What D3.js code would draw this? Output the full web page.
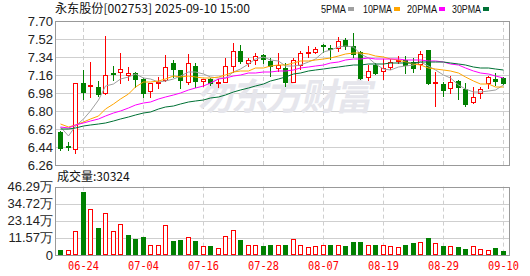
<!DOCTYPE html>
<html>
<head>
<meta charset="utf-8">
<script src="https://cdn.jsdelivr.net/npm/d3@7"></script>
<style>
  body { margin: 0; background: #fff; }
  svg { display: block; }
</style>
</head>
<body>
<svg id="chart"></svg>
<script>
// ---- data ----
const dates = [
    '06-19', '06-20', '06-23', '06-24', '06-25', '06-26', '06-27', '06-30',
    '07-01', '07-02', '07-03', '07-04', '07-07', '07-08', '07-09', '07-10', '07-11',
    '07-14', '07-15', '07-16', '07-17', '07-18', '07-21', '07-22', '07-23', '07-24',
    '07-25', '07-28', '07-29', '07-30', '07-31',
    '08-01', '08-04', '08-05', '08-06', '08-07', '08-08', '08-11', '08-12', '08-13',
    '08-14', '08-15', '08-18', '08-19', '08-20', '08-21', '08-22', '08-25', '08-26',
    '08-27', '08-28', '08-29',
    '09-01', '09-02', '09-03', '09-04', '09-05', '09-08', '09-09', '09-10'
];
const opens = [6.59, 6.45, 6.42, 7.08, 7.05, 7.04, 6.98, 7.18, 7.19, 7.16,
    7.18, 7.12, 7.00, 7.08, 7.11, 7.28, 7.21, 7.09, 7.25, 7.10,
    7.12, 7.08, 7.09, 7.25, 7.40, 7.28, 7.31, 7.36, 7.30, 7.23,
    7.23, 7.09, 7.26, 7.38, 7.39, 7.46, 7.43, 7.43, 7.51, 7.45,
    7.39, 7.14, 7.26, 7.20, 7.24, 7.30, 7.31, 7.29, 7.27, 7.41,
    7.08, 7.07, 7.03, 7.10, 7.02, 6.89, 6.98, 7.08, 7.12, 7.13];
const highs = [6.60, 6.49, 7.08, 7.21, 7.29, 7.10, 7.55, 7.25, 7.38, 7.24,
    7.19, 7.13, 7.08, 7.14, 7.36, 7.31, 7.21, 7.37, 7.28, 7.12,
    7.13, 7.12, 7.33, 7.48, 7.46, 7.33, 7.38, 7.37, 7.33, 7.38,
    7.28, 7.33, 7.40, 7.45, 7.44, 7.47, 7.46, 7.54, 7.53, 7.58,
    7.40, 7.26, 7.28, 7.32, 7.32, 7.35, 7.35, 7.33, 7.40, 7.41,
    7.19, 7.09, 7.15, 7.11, 7.08, 7.04, 7.04, 7.15, 7.18, 7.14];
const lows = [6.41, 6.41, 6.38, 6.92, 6.94, 6.95, 6.97, 7.11, 7.08, 7.11,
    7.04, 6.94, 6.94, 7.03, 7.10, 7.14, 7.03, 7.07, 7.04, 7.05,
    7.06, 7.04, 7.09, 7.19, 7.28, 7.25, 7.27, 7.28, 7.15, 7.20,
    7.05, 7.09, 7.22, 7.34, 7.38, 7.39, 7.32, 7.40, 7.42, 7.34,
    7.12, 7.11, 7.17, 7.12, 7.22, 7.28, 7.18, 7.19, 7.22, 7.07,
    6.85, 6.95, 6.98, 6.92, 6.85, 6.88, 6.93, 7.03, 7.06, 7.07];
const closes = [6.43, 6.44, 7.08, 6.99, 7.06, 6.97, 7.16, 7.17, 7.22, 7.18,
    7.12, 6.98, 7.08, 7.09, 7.24, 7.22, 7.11, 7.28, 7.10, 7.12,
    7.08, 7.09, 7.25, 7.40, 7.30, 7.31, 7.35, 7.32, 7.25, 7.26,
    7.09, 7.31, 7.38, 7.39, 7.42, 7.45, 7.42, 7.50, 7.45, 7.37,
    7.13, 7.20, 7.18, 7.23, 7.29, 7.31, 7.26, 7.23, 7.37, 7.08,
    7.09, 7.01, 7.09, 7.04, 6.87, 6.94, 7.02, 7.14, 7.10, 7.08];
// volume in 万 shares
const volumes = [3.3, 3.1, 16.5, 42.7, 31.2, 18.0, 28.5, 16.5, 21.1, 13.4,
    10.7, 12.0, 7.1, 7.1, 20.5, 9.3, 10.0, 12.5, 9.3, 5.8,
    6.0, 4.5, 13.1, 17.1, 10.0, 7.1, 6.5, 6.0, 7.1, 6.5,
    7.1, 10.5, 7.1, 5.1, 5.8, 6.5, 6.5, 6.5, 6.0, 8.5,
    8.5, 7.1, 7.1, 6.5, 5.8, 5.1, 7.1, 7.8, 9.1, 11.3,
    7.8, 5.8, 5.8, 5.1, 3.8, 5.8, 3.8, 3.1, 4.7, 3.03];
const ma5 = [6.64, 6.55, 6.65, 6.72, 6.80, 6.91, 7.05, 7.07, 7.12, 7.14,
    7.17, 7.13, 7.12, 7.09, 7.10, 7.12, 7.15, 7.19, 7.19, 7.17,
    7.14, 7.13, 7.13, 7.19, 7.22, 7.27, 7.32, 7.34, 7.31, 7.30,
    7.25, 7.25, 7.26, 7.29, 7.32, 7.39, 7.41, 7.44, 7.45, 7.44,
    7.37, 7.33, 7.27, 7.22, 7.21, 7.24, 7.25, 7.26, 7.29, 7.25,
    7.21, 7.16, 7.13, 7.06, 7.02, 6.99, 6.99, 7.00, 7.01, 7.06];
const ma10 = [6.67, 6.64, 6.66, 6.69, 6.72, 6.75, 6.82, 6.87, 6.92, 6.97,
    7.04, 7.09, 7.09, 7.10, 7.12, 7.15, 7.14, 7.15, 7.14, 7.13,
    7.13, 7.14, 7.16, 7.19, 7.20, 7.20, 7.23, 7.23, 7.25, 7.26,
    7.26, 7.28, 7.30, 7.30, 7.31, 7.32, 7.33, 7.35, 7.37, 7.38,
    7.38, 7.37, 7.35, 7.34, 7.32, 7.31, 7.29, 7.27, 7.26, 7.23,
    7.22, 7.21, 7.20, 7.18, 7.14, 7.10, 7.07, 7.07, 7.04, 7.04];
const ma20 = [6.64, 6.63, 6.66, 6.68, 6.70, 6.72, 6.75, 6.78, 6.80, 6.83,
    6.86, 6.88, 6.89, 6.92, 6.94, 6.96, 6.98, 7.01, 7.03, 7.05,
    7.08, 7.12, 7.13, 7.15, 7.16, 7.18, 7.18, 7.19, 7.19, 7.20,
    7.20, 7.21, 7.23, 7.24, 7.25, 7.26, 7.28, 7.29, 7.31, 7.32,
    7.32, 7.33, 7.32, 7.32, 7.32, 7.32, 7.31, 7.31, 7.31, 7.30,
    7.30, 7.29, 7.27, 7.26, 7.23, 7.20, 7.18, 7.17, 7.15, 7.13];
const ma30 = [6.62, 6.62, 6.63, 6.65, 6.66, 6.67, 6.68, 6.70, 6.72, 6.74,
    6.76, 6.78, 6.79, 6.82, 6.84, 6.85, 6.87, 6.89, 6.90, 6.91,
    6.93, 6.94, 6.96, 6.99, 7.01, 7.03, 7.05, 7.07, 7.10, 7.12,
    7.14, 7.17, 7.18, 7.20, 7.21, 7.22, 7.23, 7.24, 7.25, 7.26,
    7.26, 7.27, 7.27, 7.27, 7.28, 7.28, 7.28, 7.28, 7.29, 7.29,
    7.29, 7.29, 7.28, 7.27, 7.26, 7.24, 7.23, 7.23, 7.22, 7.21];

const priceTicks = [7.70, 7.52, 7.34, 7.16, 6.98, 6.80, 6.62, 6.44, 6.26];
const volumeTicks = [46.29, 34.72, 23.14, 11.57, 0];
const dateTicks = ['06-24', '07-04', '07-16', '07-28', '08-07', '08-19', '08-29', '09-10'];
const maNames = ['5PMA', '10PMA', '20PMA', '30PMA'];
const maColors = ['#a0a0a0', '#ffa500', '#ff00ff', '#007135'];
const title = '永东股份[002753] 2025-09-10 15:00';
const lastVolume = 30324;

// ---- layout ----
const width = 530, height = 276;
const left = 55, right = 509;
const priceTop = 21, priceBottom = 165;
const volTop = 186.6, volBottom = 255;
const UP = '#ff0000', DOWN = '#008000';

const svg = d3.select('#chart')
    .attr('width', width)
    .attr('height', height)
    .style('font-family', '"Liberation Sans", Arial, sans-serif');

const x = d3.scaleBand()
    .domain(dates)
    .range([left + 1.25, right - 2.75]);
const cx = d => Math.round(x(d) + x.bandwidth() / 2);

const y = d3.scaleLinear().domain([6.26, 7.70]).range([priceBottom, priceTop]);
const yv = d3.scaleLinear().domain([0, 46.29]).range([volBottom, volTop]);
const px = v => Math.round(v) + 0.5;

// ---- grid ----
function drawGrid(top, bottom, ticks, scale) {
    const g = svg.append('g');
    g.selectAll('line.h')
        .data(ticks)
        .join('line')
        .attr('x1', left).attr('x2', right)
        .attr('y1', d => px(scale(d))).attr('y2', d => px(scale(d)))
        .attr('stroke', '#cfcfcf')
        .attr('stroke-width', 1);
    g.selectAll('line.v')
        .data(dateTicks)
        .join('line')
        .attr('x1', d => cx(d) + 0.5).attr('x2', d => cx(d) + 0.5)
        .attr('y1', top).attr('y2', bottom)
        .attr('stroke', '#cfcfcf')
        .attr('stroke-dasharray', '4,3');
}
drawGrid(priceTop, priceBottom, priceTicks, y);
drawGrid(volTop, volBottom, volumeTicks, yv);

// watermark
svg.append('text')
    .attr('x', 0).attr('y', 0)
    .attr('transform', 'translate(196, 110) skewX(-12)')
    .attr('font-size', '37px')
    .attr('font-weight', 'bold')
    .attr('fill', '#e6e6ec')
    .style('font-family', '"Noto Sans CJK SC", sans-serif')
    .attr('textLength', 176)
    .text('勿东方财富');

// ---- candles ----
const idx = d3.range(dates.length);
const candles = svg.append('g');
idx.forEach(i => {
    const c = cx(dates[i]);
    const up = closes[i] > opens[i];
    const color = up ? UP : DOWN;
    candles.append('line')
        .attr('x1', c + 0.5).attr('x2', c + 0.5)
        .attr('y1', Math.round(y(highs[i]))).attr('y2', Math.round(y(lows[i])) + 1)
        .attr('stroke', color);
    const yTop = Math.round(y(Math.max(opens[i], closes[i])));
    const yBot = Math.round(y(Math.min(opens[i], closes[i])));
    if (up) {
        candles.append('rect')
            .attr('x', c - 1.5).attr('y', yTop + 0.5)
            .attr('width', 4).attr('height', Math.max(1, yBot - yTop))
            .attr('fill', '#fff').attr('stroke', color);
    } else {
        candles.append('rect')
            .attr('x', c - 2).attr('y', yTop)
            .attr('width', 5).attr('height', Math.max(1, yBot - yTop + 1))
            .attr('fill', color);
    }
});

// moving averages
const maSeries = [ma5, ma10, ma20, ma30];
maSeries.forEach((s, k) => {
    svg.append('path')
        .datum(s)
        .attr('fill', 'none')
        .attr('stroke', maColors[k])
        .attr('stroke-width', 1)
        .attr('d', d3.line().x((d, i) => cx(dates[i]) + 0.5).y(d => y(d)));
});

// ---- volume ----
const vols = svg.append('g');
idx.forEach(i => {
    const prev = i > 0 ? closes[i - 1] : opens[i];
    const up = closes[i] >= prev;
    const c = cx(dates[i]);
    const yt = Math.round(yv(volumes[i]));
    if (up) {
        vols.append('rect')
            .attr('x', c - 1.5).attr('y', yt + 0.5)
            .attr('width', 4).attr('height', volBottom - yt - 1)
            .attr('fill', '#fff').attr('stroke', UP);
    } else {
        vols.append('rect')
            .attr('x', c - 2).attr('y', yt)
            .attr('width', 5).attr('height', volBottom - yt)
            .attr('fill', DOWN);
    }
});

// panel borders
[[priceTop, priceBottom], [volTop, volBottom]].forEach(([t, b]) => {
    svg.append('rect')
        .attr('x', left + 0.5).attr('y', px(t))
        .attr('width', right - left).attr('height', Math.round(b) - Math.round(t))
        .attr('fill', 'none')
        .attr('stroke', '#999')
        .attr('stroke-width', 1);
});

// ---- labels ----
svg.append('g').selectAll('text')
    .data(priceTicks)
    .join('text')
    .attr('x', 53).attr('y', d => y(d) + 4.5)
    .attr('text-anchor', 'end')
    .attr('font-size', '13px')
    .attr('fill', '#222')
    .text(d => d.toFixed(2));

svg.append('g').selectAll('text')
    .data(volumeTicks)
    .join('text')
    .attr('x', 53).attr('y', d => yv(d) + 4.5)
    .attr('text-anchor', 'end')
    .attr('font-size', '13px')
    .attr('fill', '#222')
    .text(d => d === 0 ? '0' : d.toFixed(2) + '万');

svg.append('g').selectAll('text')
    .data(dateTicks)
    .join('text')
    .attr('x', d => cx(d) + 0.5).attr('y', 270)
    .attr('text-anchor', 'middle')
    .attr('font-size', '12px')
    .attr('fill', '#ff0000')
    .style('font-family', '"DejaVu Sans Mono", monospace')
    .attr('textLength', 31)
    .attr('lengthAdjust', 'spacingAndGlyphs')
    .text(d => d);

svg.append('text')
    .attr('x', 57).attr('y', 181)
    .attr('font-size', '12px')
    .attr('fill', '#111')
    .style('font-family', '"Noto Sans CJK SC", sans-serif')
    .text('成交量:' + lastVolume);

svg.append('text')
    .attr('x', 55).attr('y', 13)
    .attr('font-size', '12px')
    .attr('fill', '#111')
    .style('font-family', '"Noto Sans CJK SC", sans-serif')
    .attr('textLength', 195)
    .attr('lengthAdjust', 'spacingAndGlyphs')
    .text(title);

// MA legend
const legendX = [321, 363, 407, 452];
const legendW = [25, 29, 30, 29];
const legend = svg.append('g');
maNames.forEach((name, k) => {
    legend.append('text')
        .attr('x', legendX[k]).attr('y', 13)
        .attr('font-size', '11px')
        .attr('fill', '#111')
        .attr('textLength', legendW[k])
        .attr('lengthAdjust', 'spacingAndGlyphs')
        .text(name);
    legend.append('rect')
        .attr('x', legendX[k] + legendW[k] + 2).attr('y', 7)
        .attr('width', 6).attr('height', 4)
        .attr('fill', maColors[k]);
});
</script>
</body>
</html>
